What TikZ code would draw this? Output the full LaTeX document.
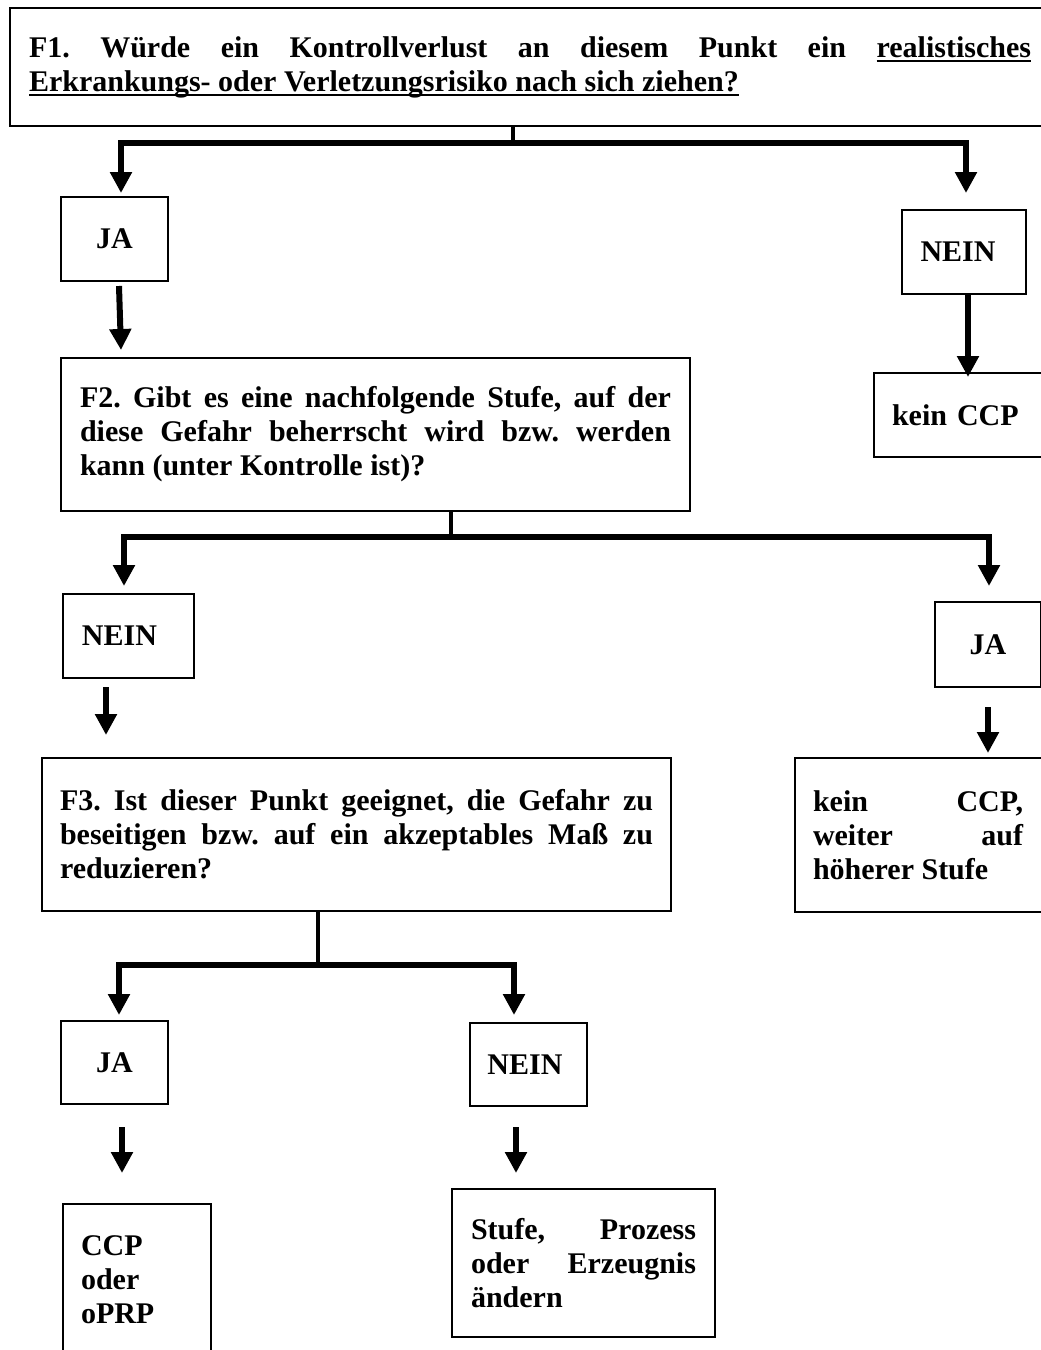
\documentclass[tikz,border=0pt]{standalone}
\usepackage{fontspec}
\setmainfont{Liberation Serif}
\usetikzlibrary{arrows.meta,calc}
\setlength{\parindent}{0pt}
\frenchspacing
\hyphenpenalty=10000
\exhyphenpenalty=10000
\tolerance=10000
\newcommand{\myul}[1]{\setbox0=\hbox{#1}\rlap{\rule[-5pt]{\wd0}{2.5pt}}\box0}
\tikzset{
  txt/.style={font=\bfseries\fontsize{30pt}{34pt}\selectfont},
  box/.style={draw, line width=2pt, anchor=north west, inner ysep=0pt, txt},
  lbl/.style={box, align=center, inner xsep=0pt},
  stem/.style={line width=4.5pt},
  bar/.style={line width=6.5pt, line join=miter, -{Triangle[width=21pt,length=21pt]}},
  arr/.style={line width=6pt, -{Triangle[width=21pt,length=21pt]}}
}
\begin{document}
\begin{tikzpicture}[x=1pt, y=-1pt]
\useasboundingbox (0,0) rectangle (1041,1350);
\fill[white] (0,0) rectangle (1041,1350);
\clip (0,0) rectangle (1041,1350);

\node[box, text width=1002pt, inner xsep=19pt, minimum height=118pt, align=justify] (f1) at (9,7)
  {F1. Würde ein Kontrollverlust an diesem Punkt ein \myul{realistisches}\linebreak\myul{Erkrankungs- oder Verletzungsrisiko nach sich ziehen?}};
\node[lbl, minimum width=107pt, minimum height=84pt] (ja1) at (60,196) {JA};
\node[lbl, minimum width=124pt, minimum height=84pt] (nein1) at (901,209) {NEIN\hspace*{12pt}};
\node[box, align=left, text width=154pt, inner xsep=18pt, minimum height=84pt] (kein1) at (873,372) {kein CCP};
\node[box, align=justify, text width=591pt, inner xsep=19pt, minimum height=153pt] (f2) at (60,357)
  {F2. Gibt es eine nachfolgende Stufe, auf der\linebreak diese Gefahr beherrscht wird bzw. werden\linebreak kann (unter Kontrolle ist)?};
\node[lbl, minimum width=131pt, minimum height=84pt] (nein2) at (62,593) {NEIN\hspace*{18pt}};
\node[lbl, minimum width=106pt, minimum height=85pt] (ja2) at (934,601) {JA};
\node[box, align=justify, text width=593pt, inner xsep=18pt, minimum height=153pt] (f3) at (41,757)
  {F3. Ist dieser Punkt geeignet, die Gefahr zu\linebreak beseitigen bzw. auf ein akzeptables Maß zu\linebreak reduzieren?};
\node[box, align=justify, text width=224pt, inner xsep=18pt, minimum height=154pt] (kein2) at (794,757)
  {\parbox{210pt}{\rightskip=0pt\leftskip=0pt\parfillskip=0pt plus 1fil kein CCP,\linebreak weiter auf\linebreak höherer Stufe}};
\node[lbl, minimum width=107pt, minimum height=83pt] (ja3) at (60,1020) {JA};
\node[lbl, minimum width=117pt, minimum height=83pt] (nein3) at (469,1022) {NEIN\hspace*{7pt}};
\node[box, align=left, text width=112pt, inner xsep=18pt, minimum height=152pt] (ccp) at (62,1203) {CCP\\oder\\oPRP};
\node[box, align=justify, text width=225pt, inner xsep=19pt, minimum height=148pt] (stufe) at (451,1188)
  {Stufe, Prozess\linebreak oder Erzeugnis\linebreak ändern};

\coordinate (j1) at (513,143);
\draw[stem] (f1.south -| j1) -- (j1);
\draw[bar] (j1) -| ($(ja1.north)+(6.5pt,3pt)$);
\draw[bar] (j1) -| ($(nein1.north)+(2pt,16pt)$);
\draw[arr] ($(ja1.south)+(4.5pt,-4pt)$) -- ($(ja1.south |- f2.north)+(6.5pt,7pt)$);
\draw[arr] ($(nein1.south)+(4pt,0pt)$) -- ($(nein1.south |- kein1.north)+(4pt,-5pt)$);

\coordinate (j2) at (451,537);
\draw[stem] (f2.south -| j2) -- (j2);
\draw[bar] (j2) -| ($(nein2.north)+(-4.5pt,7pt)$);
\draw[bar] (j2) -| ($(ja2.north)+(1pt,15pt)$);
\draw[arr] ($(nein2.south)+(-22.5pt,-8pt)$) -- ($(nein2.south |- f3.north)+(-22.5pt,22pt)$);
\draw[arr] ($(ja2.south)+(0pt,-19pt)$) -- ($(ja2.south |- kein2.north)+(0pt,4pt)$);

\coordinate (j3) at (318,965);
\draw[stem] (f3.south -| j3) -- (j3);
\draw[bar] (j3) -| ($(ja3.north)+(4.5pt,5pt)$);
\draw[bar] (j3) -| ($(nein3.north)+(-14.5pt,7pt)$);
\draw[arr] ($(ja3.south)+(7.5pt,-22pt)$) -- ($(ja3.south |- ccp.north)+(7.5pt,30pt)$);
\draw[arr] ($(nein3.south)+(-12.5pt,-20pt)$) -- ($(nein3.south |- stufe.north)+(-12.5pt,15pt)$);
\end{tikzpicture}
\end{document}
